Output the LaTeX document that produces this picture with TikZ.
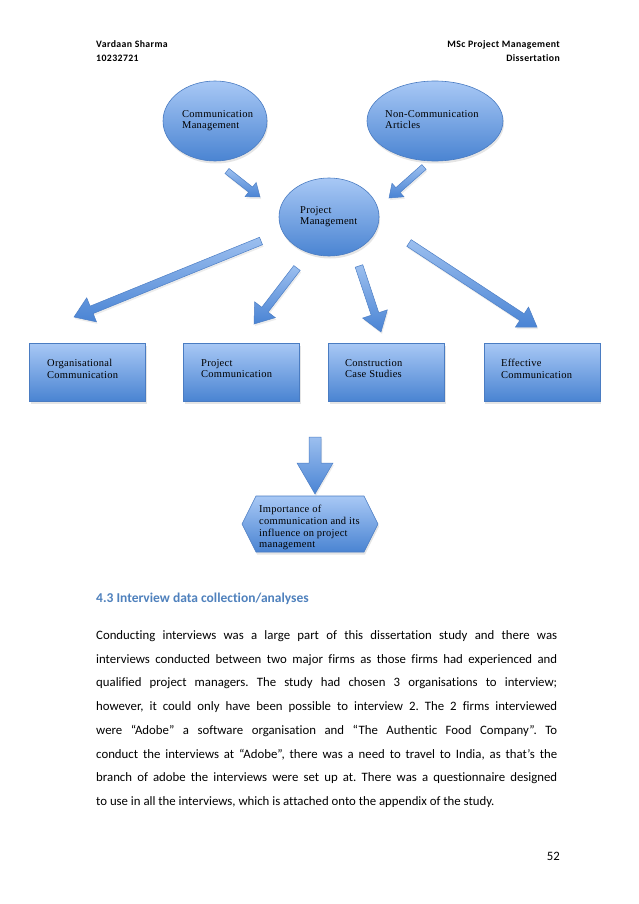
\documentclass[tikz,border=0pt]{standalone}
\usepackage{fontspec}
\setmainfont[Ligatures=NoCommon]{Carlito}
\newfontfamily\hdrfont[LetterSpace=4,Ligatures=NoCommon]{Carlito}
\newfontfamily\dfont[LetterSpace=2.5]{Liberation Serif}
\usetikzlibrary{shapes.geometric,calc,shadows}
\definecolor{shlight}{HTML}{A8C8F5}
\definecolor{shdark}{HTML}{4A84D2}
\definecolor{shline}{HTML}{4A7CC2}
\definecolor{arlight}{HTML}{9CBFEF}
\definecolor{ardark}{HTML}{4A84D4}
\definecolor{arline}{HTML}{4D7FC6}
\definecolor{headblue}{HTML}{4F81BD}
\tikzset{
 shapestyle/.style={draw=shline, line width=0.6pt, top color=shlight, bottom color=shdark,
   drop shadow={shadow xshift=1pt, shadow yshift=-2.5pt, opacity=0.2}},
 ellnode/.style={shapestyle, ellipse, inner sep=0pt},
 recnode/.style={shapestyle, rectangle, inner sep=0pt, minimum width=116pt, minimum height=58pt},
 dtext/.style={font=\dfont\fontsize{10.5}{11.8}\selectfont, align=left, anchor=north west, inner sep=0pt},
 arrowstyle/.style={draw=arline, line width=0.5pt, top color=arlight, bottom color=ardark,
   drop shadow={shadow xshift=1pt, shadow yshift=-2pt, opacity=0.15}},
 hdr/.style={font=\hdrfont\bfseries\fontsize{9.8}{11}\selectfont, inner sep=0pt},
 body/.style={font=\fontsize{12.8}{15}\selectfont, inner sep=0pt, anchor=base west},
}
% block arrow: tail, tip, shaft half width, head half width, head length
\newcommand\blockarr[5]{%
 \coordinate (#1-#2-c) at ($(#2)!#5!(#1)$);
 \path[arrowstyle] ($(#1)!#3!90:(#2)$) -- ($(#1-#2-c)!#3!-90:(#1)$) -- ($(#1-#2-c)!#4!-90:(#1)$)
   -- (#2) -- ($(#1-#2-c)!#4!90:(#1)$) -- ($(#1-#2-c)!#3!90:(#1)$) -- ($(#1)!#3!-90:(#2)$) -- cycle;
}
\frenchspacing
\begin{document}
\begin{tikzpicture}[x=1pt,y=-1pt]
\useasboundingbox[fill=white] (0,0) rectangle (638,904);
% header
\node[hdr, anchor=base west] (h1) at (96,48) {Vardaan Sharma};
\node[hdr, anchor=base west] (h2) at (96,62) {10232721};
\node[hdr, anchor=base east] (h3) at (560,48) {MSc Project Management};
\node[hdr, anchor=base east] (h4) at (560,62) {Dissertation};
% ellipses
\node[ellnode, minimum width=104pt, minimum height=80pt] (e1) at (215,121) {};
\node[ellnode, minimum width=136pt, minimum height=80pt] (e2) at (435,121) {};
\node[ellnode, minimum width=100pt, minimum height=78pt] (e3) at (329,217) {};
\node[dtext] (t1) at (182,110) {Communication\\Management};
\node[dtext] (t2) at (385,110) {Non-Communication\\Articles};
\node[dtext] (t3) at (300,206) {Project\\Management};
% rectangles
\node[recnode] (r1) at (87.5,372) {};
\node[recnode] (r2) at (241.5,372) {};
\node[recnode] (r3) at (386.5,372) {};
\node[recnode] (r4) at (542,372) {};
\node[dtext] (rt1) at (47,359) {Organisational\\Communication};
\node[dtext] (rt2) at (201,359) {Project\\Communication};
\node[dtext] (rt3) at (345,359) {Construction\\Case Studies};
\node[dtext] (rt4) at (501,359) {Effective\\Communication};
% hexagon
\coordinate (hx) at (310,524);
\path[shapestyle] ($(hx)+(-68,0)$) -- ($(hx)+(-54,-28)$) -- ($(hx)+(54,-28)$) -- ($(hx)+(68,0)$)
  -- ($(hx)+(54,28)$) -- ($(hx)+(-54,28)$) -- cycle;
\node[dtext] (ht) at (259,505) {Importance of\\communication and its\\influence on project\\management};
% arrows
\coordinate (a0t) at (227,171); \coordinate (a0h) at (260,197);
\coordinate (b0t) at (424,167); \coordinate (b0h) at (389,198);
\coordinate (a1t) at (261,241); \coordinate (a1h) at (74,317);
\coordinate (a2t) at (297,268); \coordinate (a2h) at (254,324);
\coordinate (a3t) at (359,266); \coordinate (a3h) at (381,332);
\coordinate (a4t) at (409,243); \coordinate (a4h) at (537,327);
\coordinate (dt) at (315,437); \coordinate (dh) at (315,494);
\blockarr{a0t}{a0h}{3.2pt}{9pt}{12pt}
\blockarr{b0t}{b0h}{3.2pt}{9pt}{12pt}
\blockarr{a1t}{a1h}{4pt}{13pt}{19pt}
\blockarr{a2t}{a2h}{4pt}{13pt}{18pt}
\blockarr{a3t}{a3h}{4pt}{13pt}{19pt}
\blockarr{a4t}{a4h}{4pt}{12pt}{18pt}
\blockarr{dt}{dh}{6pt}{18pt}{31pt}
% heading and body
\node[inner sep=0pt, anchor=base west, font=\bfseries\fontsize{13.5}{15}\selectfont, text=headblue] (sec) at (96,602) {4.3 Interview data collection/analyses};
\node[body] (l1) at (96,639.5) {\makebox[461pt][s]{Conducting interviews was a large part of this dissertation study and there was}};
\node[body] (l2) at (96,663.2) {\makebox[461pt][s]{interviews conducted between two major firms as those firms had experienced and}};
\node[body] (l3) at (96,686.9) {\makebox[461pt][s]{qualified project managers. The study had chosen 3 organisations to interview;}};
\node[body] (l4) at (96,710.6) {\makebox[461pt][s]{however, it could only have been possible to interview 2. The 2 firms interviewed}};
\node[body] (l5) at (96,734.3) {\makebox[461pt][s]{were “Adobe” a software organisation and “The Authentic Food Company”. To}};
\node[body] (l6) at (96,758.0) {\makebox[461pt][s]{conduct the interviews at “Adobe”, there was a need to travel to India, as that’s the}};
\node[body] (l7) at (96,781.7) {\makebox[461pt][s]{branch of adobe the interviews were set up at. There was a questionnaire designed}};
\node[body] (l8) at (96,805.4) {to use in all the interviews, which is attached onto the appendix of the study.};
\node[body, anchor=base east] (pg) at (560,860) {52};
\end{tikzpicture}
\end{document}
